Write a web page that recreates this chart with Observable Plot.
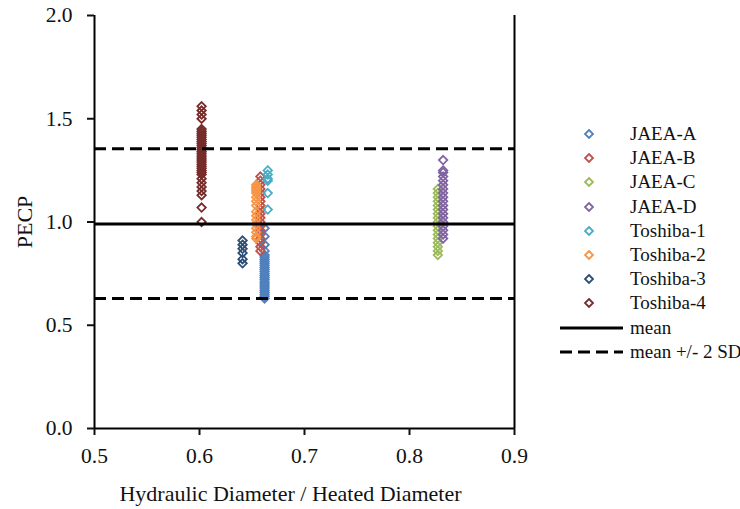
<!DOCTYPE html>
<html>
<head>
<meta charset="utf-8">
<script src="https://cdn.jsdelivr.net/npm/d3@7"></script>
<script src="https://cdn.jsdelivr.net/npm/@observablehq/plot@0.6"></script>
<style>
  body { margin: 0; background: #fff; }
  #wrap { position: relative; width: 740px; height: 509px; font-family: "Liberation Serif", "Times New Roman", serif; }
  #legend { position: absolute; left: 0; top: 0; width: 740px; height: 509px; pointer-events: none; }
  .row { position: absolute; height: 24px; line-height: 24px; font-size: 19px; color: #111; white-space: nowrap; }
  .sw { position: absolute; }
</style>
</head>
<body>
<div id="wrap">
  <div id="chart"></div>
  <div id="legend"></div>
</div>
<script>
// PECP vs. hydraulic-to-heated diameter ratio, by test series
const seriesNames = ["JAEA-A", "JAEA-B", "JAEA-C", "JAEA-D", "Toshiba-1", "Toshiba-2", "Toshiba-3", "Toshiba-4"];
const seriesColors = ["#4F81BD", "#C0504D", "#9BBB59", "#8064A2", "#4BACC6", "#F79646", "#2C4D75", "#772C2A"];
const seriesRatio = [0.662, 0.658, 0.827, 0.832, 0.665, 0.654, 0.641, 0.602];

const pecpJaeaA = [0.97, 0.93, 0.89, 0.86, 0.84, 0.83, 0.82, 0.81, 0.80, 0.79, 0.78, 0.77, 0.76, 0.75,
  0.74, 0.73, 0.72, 0.71, 0.70, 0.69, 0.68, 0.67, 0.66, 0.65, 0.64, 0.63];
const pecpJaeaB = [1.22, 1.20, 1.18, 1.16, 1.14, 1.12, 1.10, 1.08, 1.06, 1.04, 1.02, 1.00, 0.98, 0.96,
  0.94, 0.92, 0.90, 0.88, 0.86];
const pecpJaeaC = [1.16, 1.14, 1.12, 1.10, 1.08, 1.06, 1.04, 1.02, 1.00, 0.98, 0.96, 0.94, 0.92, 0.90,
  0.88, 0.86, 0.84];
const pecpJaeaD = [1.30, 1.25, 1.24, 1.22, 1.20, 1.18, 1.16, 1.14, 1.12, 1.10, 1.08, 1.06, 1.04, 1.02,
  1.00, 0.98, 0.96, 0.94, 0.92];
const pecpToshiba1 = [1.25, 1.23, 1.21, 1.20, 1.14, 1.06];
const pecpToshiba2 = [1.18, 1.17, 1.16, 1.15, 1.14, 1.12, 1.10, 1.08, 1.05, 1.03, 1.01, 0.99, 0.97,
  0.95, 0.93, 0.92];
const pecpToshiba3 = [0.91, 0.89, 0.87, 0.85, 0.82, 0.80];
const pecpToshiba4 = [1.56, 1.54, 1.52, 1.50, 1.45, 1.44, 1.43, 1.42, 1.41, 1.40, 1.39, 1.38, 1.37,
  1.36, 1.35, 1.34, 1.33, 1.32, 1.31, 1.30, 1.29, 1.28, 1.27, 1.26, 1.25, 1.24, 1.23, 1.21, 1.19,
  1.17, 1.15, 1.13, 1.07, 1.00];
const seriesValues = [pecpJaeaA, pecpJaeaB, pecpJaeaC, pecpJaeaD, pecpToshiba1, pecpToshiba2, pecpToshiba3, pecpToshiba4];

const meanPecp = 0.99;
const bandPecp = [0.63, 1.355];

const xTicks = [0.5, 0.6, 0.7, 0.8, 0.9];
const yTicks = [0.0, 0.5, 1.0, 1.5, 2.0];
const xTitle = "Hydraulic Diameter / Heated Diameter";
const yTitle = "PECP";
const meanLabel = "mean";
const bandLabel = "mean +/- 2 SD";

// one record per measurement, in series order so later series draw on top
const points = seriesNames.flatMap((name, i) =>
  seriesValues[i].map(v => ({series: name, ratio: seriesRatio[i], pecp: v})));

const fmt = d3.format(".1f");
const font = "Liberation Serif, Times New Roman, serif";

const chart = Plot.plot({
  width: 740,
  height: 509,
  marginLeft: 94,
  marginRight: 226,
  marginTop: 15,
  marginBottom: 81,
  style: {fontFamily: font, fontSize: "21.5px", background: "#fff", color: "#111", overflow: "visible"},
  x: {domain: [0.5, 0.9]},
  y: {domain: [0, 2]},
  color: {domain: seriesNames, range: seriesColors},
  marks: [
    Plot.dot(points, {
      x: "ratio", y: "pecp", stroke: "series", symbol: "diamond2",
      r: 3.8, strokeWidth: 1.8, fill: "none"
    }),
    Plot.ruleY([meanPecp], {x1: 0.5, x2: 0.9, stroke: "#000", strokeWidth: 3}),
    Plot.ruleY(bandPecp, {x1: 0.5, x2: 0.9, stroke: "#000", strokeWidth: 3, strokeDasharray: "12,6"}),
    Plot.ruleX([0.5, 0.9], {y1: 0, y2: 2, stroke: "#000", strokeWidth: 2}),
    Plot.ruleY([0], {x1: 0.5, x2: 0.9, stroke: "#000", strokeWidth: 2}),
    Plot.axisX({
      ticks: xTicks, tickFormat: fmt, tickSize: 7, tickPadding: 12,
      strokeWidth: 2, label: null
    }),
    Plot.axisY({
      ticks: yTicks, tickFormat: fmt, tickSize: 7, tickPadding: 15,
      strokeWidth: 2, label: null
    }),
    Plot.text([xTitle], {
      frameAnchor: "bottom", lineAnchor: "middle", textAnchor: "middle",
      dx: -14, dy: 65, fontSize: 22, fill: "#111"
    }),
    Plot.text([yTitle], {
      frameAnchor: "left", lineAnchor: "middle", textAnchor: "middle",
      dx: -70, rotate: -90, fontSize: 22, fill: "#111"
    })
  ]
});
// tick labels at the same size as the axis titles
chart.querySelectorAll('g[aria-label$="tick label"]').forEach(g => {
  g.setAttribute("font-size", "21.5");
  g.style.fontSize = "21.5px";
});
document.getElementById("chart").appendChild(chart);

// legend to the right of the plot
const legend = document.getElementById("legend");
const rowTop = 122, rowStep = 24.2;
seriesNames.forEach((name, i) => {
  const row = document.createElement("div");
  row.className = "row";
  row.style.top = (rowTop + i * rowStep) + "px";
  row.style.left = "580px";
  row.innerHTML =
    `<svg class="sw" width="20" height="24" style="left:0;top:0"><path d="M9,8L13,12L9,16L5,12Z" fill="none" stroke="${seriesColors[i]}" stroke-width="1.8"/></svg>` +
    `<span style="position:absolute;left:50px">${name}</span>`;
  legend.appendChild(row);
});
[[meanLabel, ""], [bandLabel, "12,6"]].forEach(([label, dash], j) => {
  const row = document.createElement("div");
  row.className = "row";
  row.style.top = (316 + j * 23.5) + "px";
  row.style.left = "555px";
  row.innerHTML =
    `<svg class="sw" width="72" height="24" style="left:0;top:0"><line x1="5" x2="68" y1="12" y2="12" stroke="#000" stroke-width="3" ${dash ? `stroke-dasharray="${dash}"` : ""}/></svg>` +
    `<span style="position:absolute;left:75px">${label}</span>`;
  legend.appendChild(row);
});
</script>
</body>
</html>
